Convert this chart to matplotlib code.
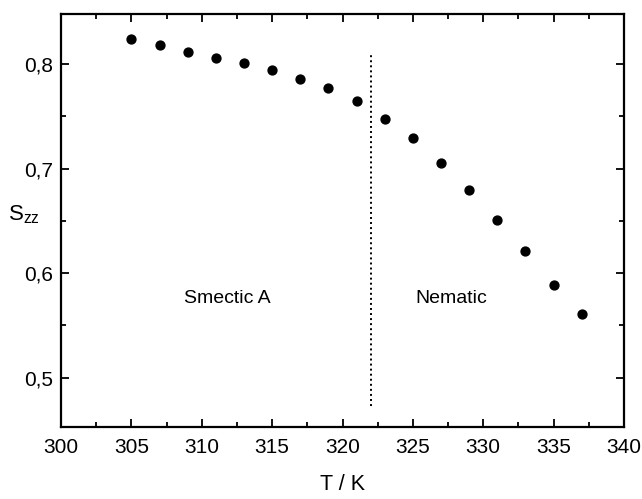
import matplotlib
matplotlib.use("Agg")
import matplotlib.pyplot as plt
from matplotlib.ticker import MultipleLocator, FuncFormatter

plt.rcParams['font.family'] = ['Liberation Sans', 'DejaVu Sans']

# Order parameter S_zz versus temperature
temperature = [305, 307, 309, 311, 313, 315, 317, 319, 321,
               323, 325, 327, 329, 331, 333, 335, 337]
s_zz = [0.824, 0.818, 0.812, 0.806, 0.801, 0.794, 0.786, 0.777, 0.765,
        0.748, 0.729, 0.705, 0.680, 0.651, 0.621, 0.589, 0.561]

# Smectic A -> nematic transition temperature
t_transition = 322
transition_span = (0.473, 0.811)

phase_labels = ["Smectic A", "Nematic"]
phase_label_x = [311.8, 327.7]
phase_label_y = 0.576

fig = plt.figure(figsize=(6.42, 4.99), dpi=100)
ax = fig.add_axes([61 / 642, 1 - 427 / 499, 563 / 642, 413 / 499])

ax.plot(temperature, s_zz, 'o', color='black', markersize=6.4, zorder=3)
ax.plot([t_transition, t_transition], transition_span, color='black',
        linestyle=(0, (1, 1.6)), linewidth=1.4)

for label, x in zip(phase_labels, phase_label_x):
    ax.text(x, phase_label_y, label, ha='center', va='center', fontsize=14)

ax.set_xlim(300, 340)
ax.set_ylim(0.4528, 0.848)
ax.xaxis.set_major_locator(MultipleLocator(5))
ax.xaxis.set_minor_locator(MultipleLocator(2.5))
ax.yaxis.set_major_locator(MultipleLocator(0.1))
ax.yaxis.set_minor_locator(MultipleLocator(0.05))
ax.yaxis.set_major_formatter(FuncFormatter(lambda v, p: f"{v:.1f}".replace('.', ',')))

ax.tick_params(which='both', direction='in', top=True, right=True, width=1.3)
ax.tick_params(which='major', length=6, labelsize=15)
ax.tick_params(axis='x', which='major', pad=8)
ax.tick_params(axis='y', which='major', pad=6)
ax.tick_params(which='minor', length=3.5)
for spine in ax.spines.values():
    spine.set_linewidth(1.6)

ax.set_xlabel("T / K", fontsize=15.5, labelpad=12)
ax.set_ylabel(r"$\mathregular{S_{zz}}$", fontsize=16, rotation=0, ha='center', va='center')
ax.yaxis.set_label_coords(-0.066, 0.513)

fig.savefig("out.png", dpi=100)
